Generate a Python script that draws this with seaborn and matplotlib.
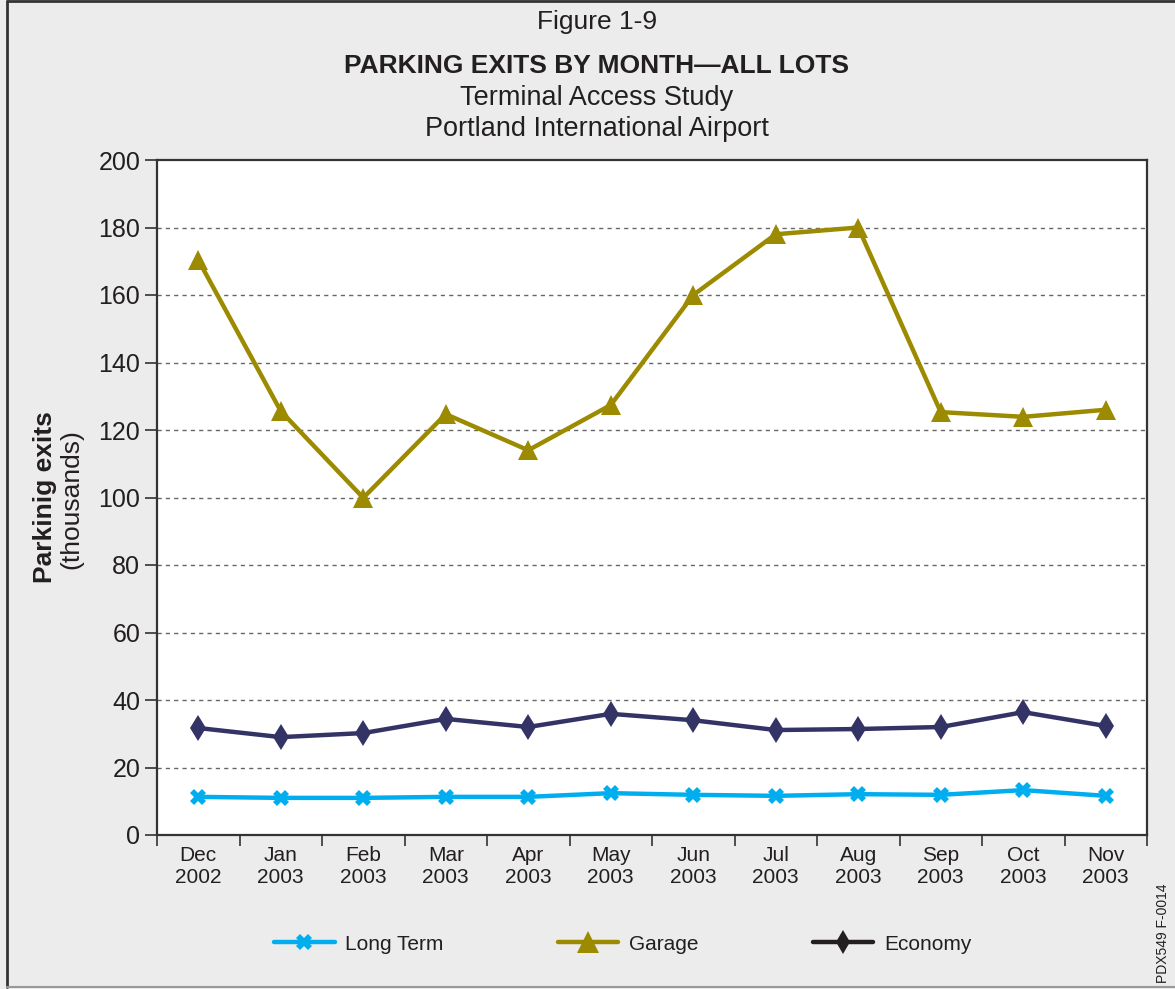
import matplotlib
matplotlib.use("Agg")
import matplotlib.pyplot as plt
import seaborn as sns
import pandas as pd
from matplotlib.lines import Line2D

months = ["Dec\n2002", "Jan\n2003", "Feb\n2003", "Mar\n2003", "Apr\n2003", "May\n2003",
          "Jun\n2003", "Jul\n2003", "Aug\n2003", "Sep\n2003", "Oct\n2003", "Nov\n2003"]
long_term = [11.3, 11.0, 11.0, 11.3, 11.3, 12.4, 11.9, 11.6, 12.1, 11.9, 13.3, 11.6]
garage = [170.4, 125.6, 99.9, 124.7, 114.0, 127.4, 160.0, 178.0, 180.0, 125.3, 123.9, 126.0]
economy = [31.7, 29.0, 30.2, 34.4, 32.0, 35.9, 34.0, 31.1, 31.4, 32.0, 36.4, 32.3]
series_names = ["Long Term", "Garage", "Economy"]
y_ticks = [0, 20, 40, 60, 80, 100, 120, 140, 160, 180, 200]

df = pd.DataFrame({
    "month": months * 3,
    "value": long_term + garage + economy,
    "lot": [series_names[0]] * 12 + [series_names[1]] * 12 + [series_names[2]] * 12,
})

sns.set_theme(style="white")
plt.rcParams["font.family"] = ["Liberation Sans", "DejaVu Sans"]

bg = "#ebeceb"
txt = "#231f20"
colors = {"Long Term": "#00aeef", "Garage": "#9c8b00", "Economy": "#333366"}
markers = {"Long Term": "X", "Garage": "^", "Economy": "d"}
msizes = {"Long Term": 12, "Garage": 14, "Economy": 13}

fig = plt.figure(figsize=(11.75, 9.89), dpi=100, facecolor=bg)
ax = fig.add_axes([157 / 1175, 1 - 835 / 989, 990 / 1175, 675 / 989])
ax.set_facecolor("white")

sns.lineplot(data=df, x="month", y="value", hue="lot", style="lot",
             hue_order=series_names, style_order=series_names,
             palette=colors, markers=markers, dashes=False,
             linewidth=3.2, markersize=12, markeredgewidth=0, ax=ax, sort=False)

for line, name in zip(ax.get_lines()[:3], series_names):
    line.set_markersize(msizes[name])

ax.get_legend().remove()

ax.set_xlim(-0.5, 11.5)
ax.set_ylim(0, 200)
ax.set_yticks(y_ticks)
ax.set_yticklabels([str(v) for v in y_ticks], fontsize=18, color=txt)
ax.set_xticks(range(12))
ax.set_xticklabels(months, fontsize=15, color=txt, linespacing=1.2)
ax.set_xticks([i - 0.5 for i in range(13)], minor=True)
ax.tick_params(axis="x", which="major", length=0, pad=8)
ax.tick_params(axis="x", which="minor", length=8, width=1.2, color="#333333", direction="out", bottom=True)
ax.tick_params(axis="y", which="major", length=9, width=1.2, color="#333333", direction="out", left=True, pad=3)
ax.set_xlabel("")
ax.set_ylabel("")

for y in y_ticks[1:-1]:
    ax.axhline(y, color="#666666", linewidth=1.0, linestyle=(0, (3, 3)), zorder=0)

for s in ax.spines.values():
    s.set_visible(True)
    s.set_color("#333333")
    s.set_linewidth(1.6)

# titles
fig.text(0.508, 1 - 22 / 989, "Figure 1-9", ha="center", va="center", fontsize=19, color=txt)
fig.text(0.508, 1 - 66 / 989, "PARKING EXITS BY MONTH\u2014ALL LOTS", ha="center", va="center",
         fontsize=19, fontweight="bold", color=txt)
fig.text(0.508, 1 - 98 / 989, "Terminal Access Study", ha="center", va="center", fontsize=19.5, color=txt)
fig.text(0.508, 1 - 129 / 989, "Portland International Airport", ha="center", va="center",
         fontsize=19.5, color=txt)

# y label
fig.text(45 / 1175, 1 - 497 / 989, "Parkinig exits", rotation=90, ha="center", va="center",
         fontsize=19, fontweight="bold", color=txt)
fig.text(71 / 1175, 1 - 499 / 989, "(thousands)", rotation=90, ha="center", va="center",
         fontsize=19, color=txt)

# side code
fig.text(1163 / 1175, 1 - 933 / 989, "PDX549 F-0014", rotation=90, ha="center", va="center",
         fontsize=10, color=txt)

# legend
handles = [
    Line2D([], [], color=colors["Long Term"], marker="X", markersize=12, markeredgewidth=0, linewidth=3.2),
    Line2D([], [], color=colors["Garage"], marker="^", markersize=16, markeredgewidth=0, linewidth=3.2),
    Line2D([], [], color=txt, marker="d", markersize=12, markeredgewidth=0, linewidth=3.2),
]
fig.legend(handles, series_names, loc="center", bbox_to_anchor=(0.53, 1 - 944 / 989), ncol=3,
           frameon=False, fontsize=15, handlelength=2.9, columnspacing=5.5, handletextpad=0.5,
           labelcolor=txt)

# frame
frame = [
    Line2D([7 / 1175, 7 / 1175], [0.002, 0.999], color="#333333", linewidth=2, transform=fig.transFigure),
    Line2D([7 / 1175, 1.0], [0.999, 0.999], color="#333333", linewidth=2, transform=fig.transFigure),
    Line2D([7 / 1175, 1.0], [0.002, 0.002], color="#999999", linewidth=1.5, transform=fig.transFigure),
]
for l in frame:
    fig.add_artist(l)

fig.savefig("out.png", dpi=100, facecolor=bg)
